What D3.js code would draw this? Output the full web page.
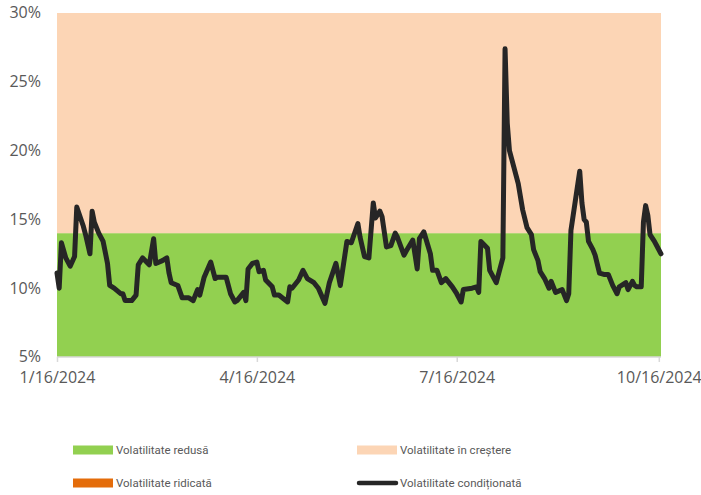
<!DOCTYPE html>
<html>
<head>
<meta charset="utf-8">
<script src="https://cdn.jsdelivr.net/npm/d3@7"></script>
<style>
  body { margin: 0; background: #fff; }
  text { font-family: "Open Sans", sans-serif; fill: #595959; }
  .legend text { font-family: Roboto, sans-serif; }
</style>
</head>
<body>
<div id="chart"></div>
<script>
// date vertices of the conditional volatility line
const dates = [
  "2024-01-16","2024-01-17","2024-01-18","2024-01-20","2024-01-22","2024-01-24","2024-01-25","2024-01-28",
  "2024-01-29","2024-01-31","2024-02-01","2024-02-02","2024-02-04","2024-02-06","2024-02-08","2024-02-09",
  "2024-02-11","2024-02-14","2024-02-15","2024-02-16","2024-02-19","2024-02-21","2024-02-22","2024-02-24",
  "2024-02-27","2024-02-29","2024-03-01","2024-03-04","2024-03-06","2024-03-07","2024-03-08","2024-03-11",
  "2024-03-13","2024-03-16","2024-03-18","2024-03-20","2024-03-21","2024-03-23","2024-03-26","2024-03-28",
  "2024-03-29","2024-04-02","2024-04-04","2024-04-06","2024-04-07","2024-04-10","2024-04-11","2024-04-12",
  "2024-04-14","2024-04-16","2024-04-17","2024-04-19","2024-04-20","2024-04-23","2024-04-24","2024-04-26",
  "2024-04-30","2024-05-01","2024-05-02","2024-05-05","2024-05-07","2024-05-09","2024-05-12","2024-05-14",
  "2024-05-17","2024-05-19","2024-05-22","2024-05-24","2024-05-27","2024-05-29","2024-06-01","2024-06-02",
  "2024-06-04","2024-06-06","2024-06-08","2024-06-09","2024-06-11","2024-06-12","2024-06-14","2024-06-16",
  "2024-06-18","2024-06-19","2024-06-22","2024-06-23","2024-06-26","2024-06-28","2024-06-29","2024-07-01",
  "2024-07-04","2024-07-05","2024-07-07","2024-07-09","2024-07-11","2024-07-14","2024-07-16","2024-07-18",
  "2024-07-19","2024-07-23","2024-07-25","2024-07-26","2024-07-27","2024-07-30","2024-07-31","2024-08-03",
  "2024-08-06","2024-08-07","2024-08-08","2024-08-09","2024-08-13","2024-08-15","2024-08-17","2024-08-19",
  "2024-08-20","2024-08-22","2024-08-23","2024-08-25","2024-08-27","2024-08-28","2024-08-30","2024-09-02",
  "2024-09-04","2024-09-05","2024-09-06","2024-09-10","2024-09-11","2024-09-12","2024-09-13","2024-09-14",
  "2024-09-16","2024-09-17","2024-09-19","2024-09-21","2024-09-23","2024-09-25","2024-09-27","2024-09-28",
  "2024-10-01","2024-10-02","2024-10-04","2024-10-05","2024-10-06","2024-10-08","2024-10-09","2024-10-10",
  "2024-10-11","2024-10-12","2024-10-14","2024-10-15","2024-10-17"
];
// volatility, %
const volatility = [
  11.1,10.0,13.3,12.2,11.6,12.3,15.9,14.5,
  13.9,12.5,15.6,14.8,14.0,13.4,11.8,10.2,
  10.0,9.6,9.6,9.1,9.1,9.5,11.7,12.2,
  11.7,13.6,11.8,12.0,12.2,11.1,10.4,10.2,
  9.3,9.3,9.1,9.9,9.5,10.8,11.9,10.7,
  10.8,10.8,9.6,9.0,9.1,9.7,9.1,11.4,
  11.8,11.9,11.2,11.3,10.6,10.1,9.5,9.5,
  9.0,10.1,10.0,10.6,11.3,10.7,10.4,10.0,
  8.9,10.4,11.8,10.2,13.4,13.3,14.7,13.7,
  12.3,12.2,16.2,15.1,15.6,15.2,13.0,13.1,
  14.0,13.7,12.4,12.7,13.5,11.4,13.6,14.1,
  12.5,11.3,11.3,10.4,10.7,10.1,9.6,9.0,
  9.9,10.0,10.1,9.7,13.4,12.9,11.3,10.4,
  12.2,27.4,22.0,20.0,17.6,15.7,14.4,13.9,
  12.8,12.0,11.2,10.7,10.0,10.5,9.7,9.9,
  9.1,9.6,14.2,18.5,16.2,15.0,14.8,13.4,
  12.8,12.4,11.1,11.0,11.0,10.2,9.6,10.1,
  10.4,9.9,10.5,10.2,10.1,10.1,14.8,16.0,
  15.3,13.9,13.4,13.1,12.5
];

// regime bands, % (from -> to)
const bandNames = ["Volatilitate redusă", "Volatilitate în creștere", "Volatilitate ridicată"];
const bandFrom = [5, 14, 30];
const bandTo = [14, 30, 30];
const bandColors = ["#92d050", "#fcd5b5", "#e46c0a"];

const yTicks = [5, 10, 15, 20, 25, 30];
const xTicks = ["2024-01-16", "2024-04-16", "2024-07-16", "2024-10-16"];
const lineName = "Volatilitate condiționată";

const W = 701, H = 495;
const margin = { top: 13, right: 40, bottom: 138, left: 57 };
const parse = d3.timeParse("%Y-%m-%d");
const fmt = d3.timeFormat("%-m/%-d/%Y");

const svg = d3.select("#chart").append("svg")
  .attr("width", W).attr("height", H);

const x = d3.scaleTime()
  .domain([parse("2024-01-16"), parse("2024-10-17")])
  .range([margin.left, W - margin.right]);
const y = d3.scaleLinear()
  .domain([5, 30])
  .range([H - margin.bottom, margin.top]);

// bands
svg.append("g").selectAll("rect")
  .data(bandNames)
  .join("rect")
  .attr("x", x.range()[0])
  .attr("width", x.range()[1] - x.range()[0])
  .attr("y", (d, i) => y(bandTo[i]))
  .attr("height", (d, i) => y(bandFrom[i]) - y(bandTo[i]))
  .attr("fill", (d, i) => bandColors[i]);

// x axis
const xAxis = svg.append("g")
  .attr("transform", "translate(0," + y(5) + ")")
  .call(d3.axisBottom(x).tickValues(xTicks.map(parse)).tickFormat(fmt).tickSize(5).tickPadding(10));
xAxis.select(".domain").attr("stroke", "#d9d9d9").attr("stroke-width", 1.5)
  .attr("d", "M" + x.range()[0] + ",0H" + x.range()[1]);
xAxis.selectAll(".tick line").attr("stroke", "#d9d9d9").attr("stroke-width", 1.5);
xAxis.selectAll(".tick text").style("font-size", "16px").attr("fill", "#595959");

// y axis labels
const yAxis = svg.append("g")
  .attr("transform", "translate(" + margin.left + ",0)")
  .call(d3.axisLeft(y).tickValues(yTicks).tickFormat(d => d + "%").tickSize(0).tickPadding(16));
yAxis.select(".domain").remove();
yAxis.selectAll(".tick text").style("font-size", "16px").attr("fill", "#595959").attr("dy", "0.3em");

// line
const pts = dates.map((d, i) => ({ date: parse(d), v: volatility[i] }));
svg.append("path")
  .datum(pts)
  .attr("fill", "none")
  .attr("stroke", "#262626")
  .attr("stroke-width", 5)
  .attr("stroke-linejoin", "round")
  .attr("stroke-linecap", "round")
  .attr("d", d3.line().x(d => x(d.date)).y(d => y(d.v)));

// legend
const legendItems = [
  { name: bandNames[0], color: bandColors[0], type: "rect", col: 0, row: 0 },
  { name: bandNames[1], color: bandColors[1], type: "rect", col: 1, row: 0 },
  { name: bandNames[2], color: bandColors[2], type: "rect", col: 0, row: 1 },
  { name: lineName, color: "#262626", type: "line", col: 1, row: 1 }
];
const lg = svg.append("g").attr("class", "legend").selectAll("g")
  .data(legendItems)
  .join("g")
  .attr("transform", d => "translate(" + (d.col ? 357 : 73) + "," + (d.row ? 483 : 450) + ")");
lg.filter(d => d.type === "rect").append("rect")
  .attr("x", 0).attr("y", -4.5).attr("width", 40).attr("height", 9)
  .attr("fill", d => d.color);
lg.filter(d => d.type === "line").append("line")
  .attr("x1", 2).attr("x2", 39).attr("y1", 0).attr("y2", 0)
  .attr("stroke", d => d.color).attr("stroke-width", 4.5).attr("stroke-linecap", "round");
lg.append("text")
  .attr("x", 43).attr("y", 0).attr("dy", "0.35em")
  .style("font-size", "11.5px")
  .text(d => d.name);
</script>
</body>
</html>
